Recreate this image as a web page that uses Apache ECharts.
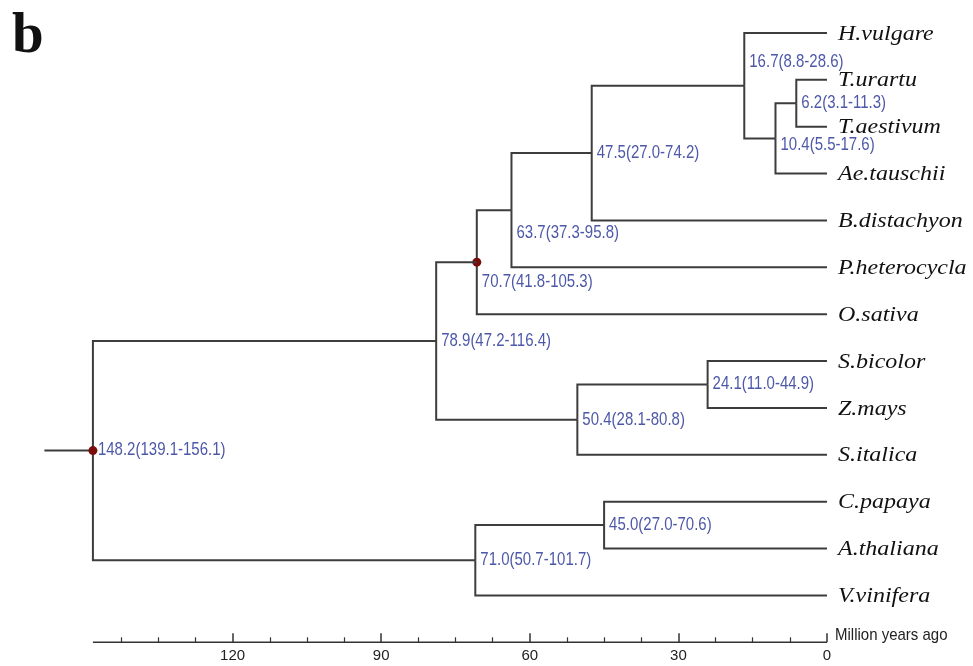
<!DOCTYPE html>
<html><head><meta charset="utf-8">
<script src="https://cdn.jsdelivr.net/npm/echarts@6/dist/echarts.min.js"></script>
<style>html,body{margin:0;padding:0;background:#fff}#c{width:973px;height:666px}</style>
</head><body><div id="c"></div>
<script>
// ---- data ----
const leafNames  = ['H.vulgare','T.urartu','T.aestivum','Ae.tauschii','B.distachyon','P.heterocycla','O.sativa','S.bicolor','Z.mays','S.italica','C.papaya','A.thaliana','V.vinifera'];
const nodeIds    = ['N1','N2','N3','N4','N5','N6','N7','N8','N9','N10','N11','ROOT'];
const nodeAge    = [6.2, 10.4, 16.7, 47.5, 63.7, 70.7, 24.1, 50.4, 78.9, 45.0, 71.0, 148.2];
const nodeLow    = [3.1, 5.5, 8.8, 27.0, 37.3, 41.8, 11.0, 28.1, 47.2, 27.0, 50.7, 139.1];
const nodeHigh   = [11.3, 17.6, 28.6, 74.2, 95.8, 105.3, 44.9, 80.8, 116.4, 70.6, 101.7, 156.1];
const childA     = ['T.urartu','N1','H.vulgare','N3','N4','N5','S.bicolor','N7','N6','C.papaya','N10','N9'];
const childB     = ['T.aestivum','Ae.tauschii','N2','B.distachyon','P.heterocycla','O.sativa','Z.mays','S.italica','N8','A.thaliana','V.vinifera','N11'];
const calibrated = ['N6','ROOT'];
const rootStemAge = 158.0;
const tickValues = [0, 30, 60, 90, 120];
const axisTitle  = 'Million years ago';
const panelLetter = 'b';

// ---- styles (label vertical nudges in px, per node) ----
const labelDy = {N3: -24, N2: 7, N5: 23, N6: 20};
const LINE = '#3d3d3d';
const BLUE = '#4d58a8';
const DOT  = '#7a0c0c';

// ---- layout from data ----
const ageOf = {}, yOf = {};
leafNames.forEach((n, i) => { ageOf[n] = 0; yOf[n] = i; });
nodeIds.forEach((id, i) => { ageOf[id] = nodeAge[i]; });
function yPos(id) {
  if (id in yOf) return yOf[id];
  const i = nodeIds.indexOf(id);
  yOf[id] = (yPos(childA[i]) + yPos(childB[i])) / 2;
  return yOf[id];
}
nodeIds.forEach(yPos);
const rootY = yOf['ROOT'];
const axisY = leafNames.length;

const nodeData = nodeIds.map((id, i) => [nodeAge[i], yOf[id], i]);
const leafData = leafNames.map((n, i) => [0, i, i]);

const chart = echarts.init(document.getElementById('c'), null, {renderer: 'canvas'});
chart.setOption({
  animation: false,
  backgroundColor: '#fff',
  grid: {left: 84, right: 146, top: 9.5, bottom: 23.7},
  xAxis: {
    type: 'value', inverse: true, min: 0, max: 150, interval: 30, position: 'bottom',
    splitLine: {show: false},
    axisLine: {show: false, onZero: false},
    axisTick: {show: true, inside: true, length: 9, customValues: tickValues, lineStyle: {color: '#333', width: 1.5}},
    minorTick: {show: true, splitNumber: 4, length: 5, lineStyle: {color: '#333', width: 1.2}},
    axisLabel: {customValues: tickValues, margin: 6, fontFamily: 'Liberation Sans', fontSize: 15, color: '#222'}
  },
  yAxis: {type: 'value', inverse: true, min: -0.5, max: axisY, show: false},
  graphic: [{
    type: 'text', left: 12, top: 9,
    style: {text: panelLetter, font: 'bold 57px "Liberation Serif"', fill: '#111'}
  }],
  series: [
    { // branches, node labels, calibration dots
      type: 'custom', coordinateSystem: 'cartesian2d', clip: false,
      data: nodeData,
      renderItem: function (params, api) {
        const i = api.value(2);
        const id = nodeIds[i];
        const p = api.coord([nodeAge[i], yOf[id]]);
        const children = [];
        [childA[i], childB[i]].forEach(c => {
          const q = api.coord([ageOf[c], yOf[c]]);
          children.push({type: 'polyline', shape: {points: [[p[0], p[1]], [p[0], q[1]], [q[0], q[1]]]},
            style: {stroke: LINE, lineWidth: 2, fill: null, lineJoin: 'miter'}});
        });
        if (id === 'ROOT') {
          const s = api.coord([rootStemAge, rootY]);
          children.push({type: 'line', shape: {x1: s[0], y1: s[1], x2: p[0], y2: p[1]}, style: {stroke: LINE, lineWidth: 2}});
          const a0 = api.coord([nodeAge[i], axisY]);
          const a1 = api.coord([0, axisY]);
          children.push({type: 'line', shape: {x1: a0[0], y1: a0[1], x2: a1[0], y2: a1[1]}, style: {stroke: '#333', lineWidth: 1.6}});
          children.push({type: 'text', x: a1[0] + 8, y: a1[1] - 7, scaleY: 1.12,
            style: {text: axisTitle, font: '15px "Liberation Sans"', fill: '#222', align: 'left', verticalAlign: 'middle'}});
        }
        const txt = nodeAge[i].toFixed(1) + '(' + nodeLow[i].toFixed(1) + '-' + nodeHigh[i].toFixed(1) + ')';
        children.push({type: 'text', x: p[0] + 5, y: p[1] + (labelDy[id] || 0), scaleY: 1.18,
          style: {text: txt, font: '15px "Liberation Sans"', fill: BLUE, align: 'left', verticalAlign: 'middle'}});
        if (calibrated.indexOf(id) >= 0) {
          children.push({type: 'circle', shape: {cx: p[0], cy: p[1], r: 4.5}, style: {fill: DOT}});
        }
        return {type: 'group', children: children};
      }
    },
    { // leaf names
      type: 'custom', coordinateSystem: 'cartesian2d', clip: false,
      data: leafData,
      renderItem: function (params, api) {
        const i = api.value(2);
        const p = api.coord([0, i]);
        return {type: 'text', x: p[0] + 11, y: p[1] + 1, scaleY: 0.9,
          style: {text: leafNames[i], font: 'italic 24px "Liberation Serif"', fill: '#111', align: 'left', verticalAlign: 'middle'}};
      }
    }
  ]
});
</script>
</body></html>
